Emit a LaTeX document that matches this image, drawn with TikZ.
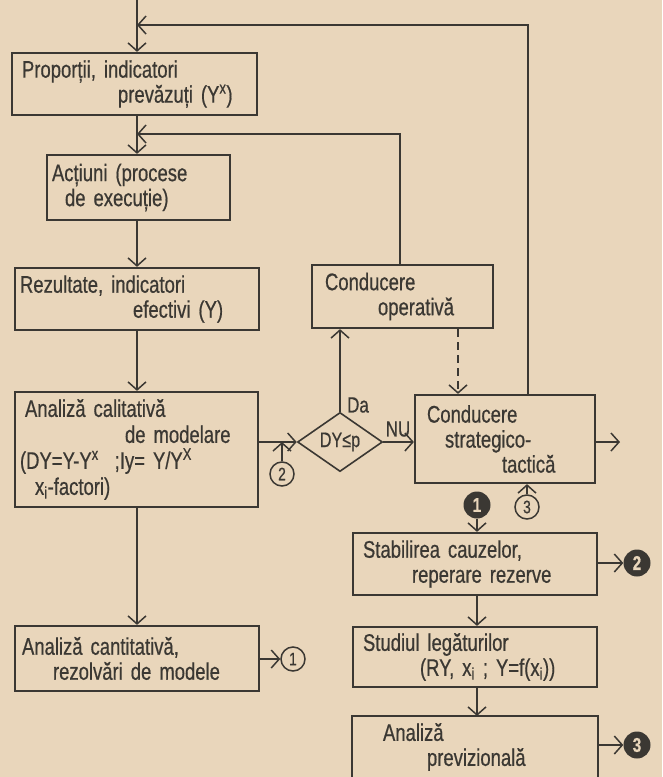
\documentclass[tikz,border=0pt]{standalone}
\usepackage{fontspec}
\setmainfont{Liberation Sans}[FakeStretch=0.77,FakeBold=0.6]
\usetikzlibrary{arrows.meta,shapes.geometric}
\definecolor{bg}{HTML}{E9D6BB}
\definecolor{ink}{HTML}{3B3833}
\tikzset{
  boxnode/.style={draw=ink, line width=2.2pt, rectangle, inner xsep=5pt, inner ysep=0pt,
    align=left, text=ink, font=\fontsize{24}{25}\selectfont},
  arr/.style={draw=ink, line width=1.5pt, -{Straight Barb[length=8pt,width=18pt,line width=1.5pt]}},
  ocirc/.style={circle, draw=ink, line width=1.5pt, minimum size=24pt, inner sep=0pt, text=ink,
    font=\fontsize{18}{18}\selectfont},
  fcirc/.style={circle, fill=ink, minimum size=27pt, inner sep=0pt, text=bg,
    font=\bfseries\fontsize{20}{20}\selectfont},
  lbl/.style={text=ink, font=\fontsize{22}{24}\selectfont, inner sep=0pt}
}
\begin{document}
\begin{tikzpicture}[x=1pt,y=-1pt]
\path[use as bounding box, fill=bg] (0,0) rectangle (662,777);
\clip (0,0) rectangle (662,777);

% boxes
\node[boxnode, text width=235pt, minimum height=62pt] (box1) at (134.5,84)
  {\hspace*{5pt}Proporții, indicatori\\\hspace*{101pt}prevăzuți (Y\textsuperscript{x})};
\node[boxnode, text width=173pt, minimum height=65pt] (box2) at (138.5,187.5)
  {Acțiuni (procese\\\hspace*{13pt}de execuție)};
\node[boxnode, text width=234pt, minimum height=62pt] (box3) at (137,299)
  {Rezultate, indicatori\\\hspace*{113pt}efectivi (Y)};
\node[boxnode, text width=233pt, minimum height=115pt, font=\fontsize{24}{26}\selectfont] (box4) at (136.5,449.5)
  {\hspace*{5pt}Analiză calitativă\\\hspace*{105pt}de modelare\\(DY=Y-Y\textsuperscript{x}\ \ ;Iy= Y/Y\textsuperscript{X}\\\hspace*{15pt}x\textsubscript{i}-factori)};
\node[boxnode, text width=234pt, minimum height=65pt] (box5) at (137,658.5)
  {\hspace*{2pt}Analiză cantitativă,\\\hspace*{33pt}rezolvări de modele};
\node[boxnode, text width=171pt, minimum height=63pt] (op) at (402.5,296.5)
  {\hspace*{8pt}Conducere\\\hspace*{61pt}operativă};
\node[boxnode, text width=170pt, minimum height=88pt] (strat) at (505,439)
  {\hspace*{7pt}Conducere\\\hspace*{25pt}strategico-\\\hspace*{82pt}tactică};
\node[boxnode, text width=234pt, minimum height=62pt] (stab) at (475,564)
  {\hspace*{5pt}Stabilirea cauzelor,\\\hspace*{54pt}reperare rezerve};
\node[boxnode, text width=234pt, minimum height=60pt] (stud) at (475,657)
  {\hspace*{5pt}Studiul legăturilor\\\hspace*{62pt}(RY, x\textsubscript{i} ; Y=f(x\textsubscript{i}))};
\node[boxnode, draw=none, text width=234pt, minimum height=60pt] (prev) at (475,747)
  {\hspace*{25pt}Analiză\\\hspace*{69pt}previzională};
\draw[draw=ink, line width=2.2pt] (prev.south west) -- (prev.north west) -- (prev.north east) -- (prev.south east);

% decision
\node[diamond, draw=ink, line width=1.6pt, minimum width=85pt, minimum height=50pt, inner sep=0pt,
  text=ink, font=\fontsize{21}{21}\selectfont] (dia) at (340,442) {DY≤p};
\node[lbl] (da) at (358,405) {Da};
\node[lbl] (nu) at (398,429) {NU};

% circles
\node[ocirc] (c1) at (293,659) {1};
\node[ocirc] (c2) at (282,474) {2};
\node[ocirc] (c3) at (527,507) {3};
\node[fcirc] (f1) at (477,505) {1};
\node[fcirc] (f2) at (637,563) {2};
\node[fcirc] (f3) at (637,745) {3};

% coordinates
\coordinate (topin) at (137,0);
\coordinate (j1) at (137,25);
\coordinate (j1r) at (528,25);
\coordinate (j2) at (137,134);
\coordinate (j2r) at (400,134);
\coordinate (dx) at (458,0);
\coordinate (sout) at (620,442);

% main column
\draw[arr] (topin) -- (topin |- box1.north);
\draw[arr] (box1.south -| topin) -- (box2.north -| topin);
\draw[arr] (box2.south -| topin) -- (box3.north -| topin);
\draw[arr] (box3.south -| topin) -- (box4.north -| topin);
\draw[arr] (box4.south -| topin) -- (box5.north -| topin);
\draw[arr] (c1.west -| box5.east) -- (c1.west);

% feedback loops
\draw[arr] (strat.north -| j1r) -- (j1r) -- (j1);
\draw[arr] (op.north -| j2r) -- (j2r) -- (j2);

% decision connections
\draw[arr] (dia.west -| box4.east) -- (dia.west);
\draw[arr] (c2.north) -- (c2.north |- dia.west);
\draw[arr] (dia.north) -- (dia.north |- op.south);
\draw[arr] (dia.east) -- (dia.east -| strat.west);
\draw[arr, dash pattern=on 8pt off 5pt, line width=2pt] (op.south -| dx) -- (strat.north -| dx);
\draw[arr] (sout -| strat.east) -- (sout);
\draw[arr] (c3.north) -- (c3.north |- strat.south);

% right column
\draw[arr] (f1.south) -- (f1.south |- stab.north);
\draw[arr] (f2.west -| stab.east) -- (f2.west);
\draw[arr] (stab.south -| f1) -- (stud.north -| f1);
\draw[arr] (stud.south -| f1) -- (prev.north -| f1);
\draw[arr] (f3.west -| prev.east) -- (f3.west);
\end{tikzpicture}
\end{document}
